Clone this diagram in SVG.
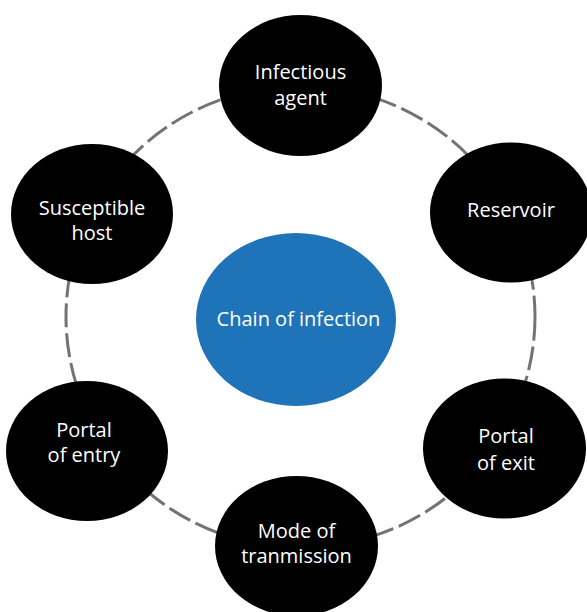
<svg xmlns="http://www.w3.org/2000/svg" width="587" height="612" viewBox="0 0 587 612">
<style>
.node{fill:#000}
.hub{fill:#1f73b9}
.lbl{fill:#fff;font-family:"Open Sans","Noto Sans","Liberation Sans",sans-serif;font-size:20px;text-anchor:middle}
.ring{fill:none;stroke:#737373;stroke-width:3;stroke-dasharray:24 6}
</style>
<rect width="587" height="612" fill="#fff"/>
<g id="connectors">
<ellipse class="ring" cx="300.5" cy="316.7" rx="234.5" ry="230.8"/>
</g>
<g id="hub">
<ellipse class="hub" cx="296" cy="319.5" rx="100" ry="86.5"/>
<text class="lbl" x="298.5" y="326">Chain of infection</text>
</g>
<g id="infectious-agent">
<ellipse class="node" cx="300.5" cy="85.5" rx="81.5" ry="70.5"/>
<text class="lbl" x="300.5" y="79">Infectious</text>
<text class="lbl" x="300.5" y="105">agent</text>
</g>
<g id="reservoir">
<ellipse class="node" cx="511" cy="212.5" rx="81" ry="70"/>
<text class="lbl" x="511" y="217">Reservoir</text>
</g>
<g id="portal-of-exit">
<ellipse class="node" cx="504.5" cy="448.5" rx="81.5" ry="70"/>
<text class="lbl" x="506" y="443">Portal</text>
<text class="lbl" x="506" y="470">of exit</text>
</g>
<g id="mode-of-transmission">
<ellipse class="node" cx="296.5" cy="546" rx="81.5" ry="70"/>
<text class="lbl" x="296.5" y="538">Mode of</text>
<text class="lbl" x="296.5" y="563">tranmission</text>
</g>
<g id="portal-of-entry">
<ellipse class="node" cx="87" cy="451" rx="81" ry="70"/>
<text class="lbl" x="84" y="437">Portal</text>
<text class="lbl" x="84" y="462">of entry</text>
</g>
<g id="susceptible-host">
<ellipse class="node" cx="92" cy="214" rx="81" ry="70"/>
<text class="lbl" x="92" y="215">Susceptible</text>
<text class="lbl" x="92" y="240">host</text>
</g>
</svg>
